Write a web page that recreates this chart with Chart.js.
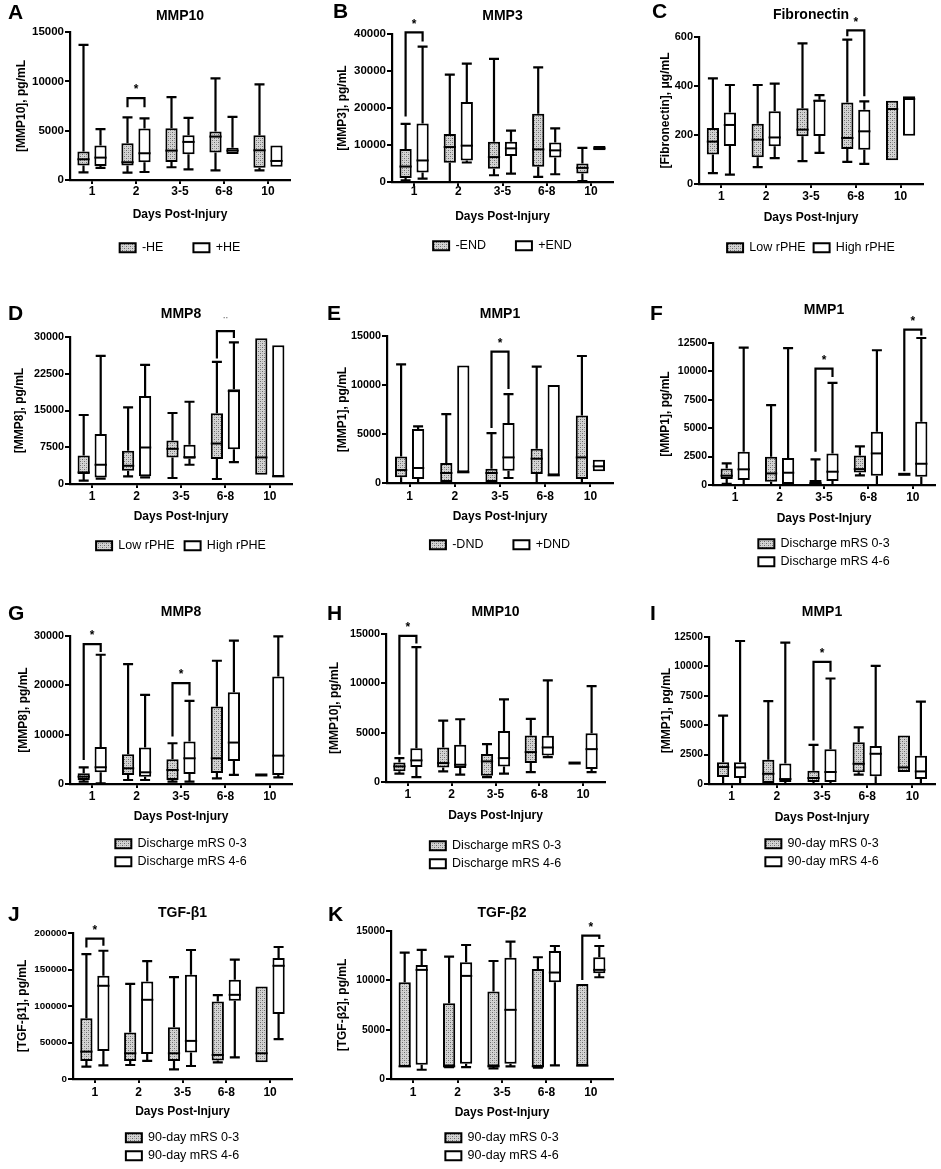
<!DOCTYPE html>
<html>
<head>
<meta charset="utf-8">
<script src="https://cdn.jsdelivr.net/npm/chart.js@4.4.0/dist/chart.umd.min.js"></script>
<style>
html, body { margin: 0; padding: 0; background: #fff; overflow: hidden; }
#fig { position: relative; width: 941px; height: 1169px; }
#fig canvas { position: absolute; }
</style>
</head>
<body>
<div id="fig"></div>
<script>
const days = ["1", "2", "3-5", "6-8", "10"];

// each row: [min, q1, median, q3, max] for days 1, 2, 3-5, 6-8, 10
const aLo = [[780,1460,2100,2880,13700],[750,1460,1800,3720,6350],[1290,1830,2980,5250,8400],[980,2780,4400,4910,10300],[980,1250,3010,4540,9700]];
const aHi = [[1220,1420,2270,3490,5150],[810,1800,2710,5210,6250],[1080,2610,3860,4540,6300],[2640,2640,2980,3280,6400],[1350,1350,1930,3490,3490]];
const bLo = [[450,1090,4180,8900,15700],[0,5180,9450,13000,29000],[1820,3550,6730,10900,33300],[1360,4090,8820,18450,31000],[270,2270,3820,5000,9200]];
const bHi = [[910,2550,5820,15800,36600],[5270,5820,9820,21600,32000],[2270,7000,9090,10900,13900],[2090,6640,8550,10700,14500],[8550,8550,9100,9730,9730]];
const cLo = [[44,120,173,229,431],[69,109,181,246,404],[93,195,222,309,574],[90,143,188,333,589],[97,97,306,340,340]];
const cHi = [[38,155,241,292,404],[106,154,190,297,410],[127,196,340,344,363],[82,140,215,303,337],[197,197,347,358,358]];
const dLo = [[680,2030,2370,5820,14080],[1560,2710,3720,6770,15640],[1220,5420,7180,8870,14490],[1020,5080,8260,14420,24920],[1900,1900,5420,29720,29720]];
const dHi = [[1080,1350,3930,10220,26130],[1350,1560,7450,17940,24310],[3930,5150,5480,7990,16790],[4470,7110,18960,19360,28910],[1420,1420,1560,28300,28300]];
const eLo = [[0,580,1320,2710,12100],[0,0,1020,2040,7020],[0,0,1020,1460,5090],[0,920,2480,3500,11880],[0,410,2610,6890,12960]];
const eHi = [[0,410,1530,5500,5770],[1090,1090,1090,11980,11980],[510,1260,2610,6110,9060],[780,780,780,10010,10010],[1190,1190,1700,2380,2380]];
const fLo = [[100,530,820,1460,1900],[0,290,1020,2490,7030],[0,0,150,440,2250],[850,1100,1400,2600,3400],[940,940,940,940,940]];
const fHi = [[0,440,1380,2930,12090],[0,90,1080,2370,12050],[0,350,1170,2780,8990],[0,820,2780,4680,11860],[0,730,1870,5560,12940]];
const gLo = [[470,810,1490,2170,3390],[810,1830,3180,6030,24310],[470,810,2840,5010,8260],[1150,2230,5210,15710,24980],[1830,1830,1830,1830,1830]];
const gHi = [[140,2370,3390,7520,26200],[810,1490,2370,7380,18080],[470,2030,5210,8600,16860],[1830,4670,8400,18620,29050],[1350,1830,5750,21800,29930]];
const hLo = [[840,1080,1580,1980,2420],[1080,1480,1920,3500,6220],[500,640,2090,2830,3830],[1010,1920,3030,4710,6390],[1920,1920,1920,1920,1920]];
const hHi = [[500,1510,2190,3430,13660],[740,1410,1750,3770,6360],[840,1580,2420,5180,8380],[2520,2690,3500,4680,10290],[1010,1310,3330,4940,9720]];
const iLo = [[0,590,1440,1860,5810],[0,80,870,2060,7050],[0,170,510,1130,3330],[790,990,1720,3560,4820],[1020,1020,1410,4120,4120]];
const iHi = [[0,510,1410,1860,12160],[0,170,420,1750,12020],[0,170,1020,2960,8970],[0,650,2570,3240,10050],[0,420,1070,2400,7000]];
const jLo = [[16900,24700,37500,83300,171000],[19200,24700,35200,63600,130400],[13300,24700,35200,70900,139600],[22900,25200,33000,106200,114900],[22900,22900,35200,126800,126800]];
const jHi = [[18800,38400,127700,141400,175700],[24700,34300,108500,133600,161600],[17800,36200,52200,142800,176700],[29700,107100,115300,135900,163400],[54500,89200,155100,165700,180800]];
const kLo = [[1210,1210,1280,9810,12810],[1210,1280,1280,7680,12400],[1080,1280,1280,8860,11960],[1150,1210,1280,11160,12340],[1350,1350,1350,9640,9640]];
const kHi = [[940,1450,11060,11560,13080],[1210,1550,10450,11830,13580],[1280,1550,7010,12300,13920],[1380,9810,10790,12980,13480],[10310,10720,11060,12340,13480]];

// significance brackets: [day index, bracket top, left leg end, right leg end, mark]
const aSig = [[1, 8300, 7380, 7380, "*"]];
const bSig = [[0, 40450, 17700, 38000, "*"]];
const cSig = [[3, 627, 603, 358, "*"]];
const dSig = [[3, 31200, 25600, 29800, "¨"]];
const eSig = [[2, 13400, 5600, 9600, "*"]];
const fSig = [[2, 10250, 2930, 9510, "*"], [4, 13670, 1200, 13170, "*"]];
const gSig = [[0, 28370, 4870, 26740, "*"], [2, 20450, 9610, 17940, "*"]];
const hSig = [[0, 14800, 2760, 14030, "*"]];
const iSig = [[2, 10380, 3700, 9540, "*"]];
const jSig = [[0, 192200, 180300, 182600, "*"]];
const kSig = [[4, 14530, 10040, 14190, "*"]];

const dis = ["Discharge mRS 0-3", "Discharge mRS 4-6"];
const ninety = ["90-day mRS 0-3", "90-day mRS 4-6"];

const panels = [
  {letter:"A", title:"MMP10", yTitle:"[MMP10], pg/mL", yMax:15000, yStep:5000, names:["-HE","+HE"], lo:aLo, hi:aHi, sig:aSig, tick:11.5,
   px:0, py:0, cw:310, left:70, right:290, top:32, bottom:180, titleY:16, xLabelY:192, xTitleY:215, legendY:247, legPad:30, rows:1, yTitleX:22, letterX:8, letterY:13},
  {letter:"B", title:"MMP3", yTitle:"[MMP3], pg/mL", yMax:40000, yStep:10000, names:["-END","+END"], lo:bLo, hi:bHi, sig:bSig, tick:11.5,
   px:310, py:0, cw:310, left:392, right:613, top:34, bottom:182, titleY:16, xLabelY:192, xTitleY:217, legendY:245, legPad:30, rows:1, yTitleX:343, letterX:333, letterY:12},
  {letter:"C", title:"Fibronectin", yTitle:"[Fibronectin], μg/mL", yMax:600, yStep:200, names:["Low rPHE","High rPHE"], lo:cLo, hi:cHi, sig:cSig, tick:11,
   px:620, py:0, cw:321, left:699, right:923, top:37, bottom:184, titleY:15, xLabelY:197, xTitleY:218, legendY:247, legPad:8, rows:1, yTitleX:666, letterX:652, letterY:12},
  {letter:"D", title:"MMP8", yTitle:"[MMP8], pg/mL", yMax:30000, yStep:7500, names:["Low rPHE","High rPHE"], lo:dLo, hi:dHi, sig:dSig, tick:10.8,
   px:0, py:285, cw:310, left:70, right:292, top:337, bottom:484, titleY:314, xLabelY:497, xTitleY:517, legendY:545, legPad:10, rows:1, yTitleX:20, letterX:8, letterY:314},
  {letter:"E", title:"MMP1", yTitle:"[MMP1], pg/mL", yMax:15000, yStep:5000, names:["-DND","+DND"], lo:eLo, hi:eHi, sig:eSig, tick:10.8,
   px:310, py:285, cw:310, left:387, right:613, top:336, bottom:483, titleY:314, xLabelY:497, xTitleY:517, legendY:544, legPad:30, rows:1, yTitleX:343, letterX:327, letterY:314},
  {letter:"F", title:"MMP1", yTitle:"[MMP1], pg/mL", yMax:12500, yStep:2500, names:dis, lo:fLo, hi:fHi, sig:fSig, tick:10.5,
   px:620, py:285, cw:321, left:713, right:935, top:343, bottom:485, titleY:310, xLabelY:498, xTitleY:519, legendY:543, legPad:5.5, rows:2, yTitleX:666, letterX:650, letterY:314},
  {letter:"G", title:"MMP8", yTitle:"[MMP8], pg/mL", yMax:30000, yStep:10000, names:dis, lo:gLo, hi:gHi, sig:gSig, tick:10.8,
   px:0, py:575, cw:310, left:70, right:292, top:636, bottom:784, titleY:612, xLabelY:797, xTitleY:817, legendY:843, legPad:5.5, rows:2, yTitleX:24, letterX:8, letterY:614},
  {letter:"H", title:"MMP10", yTitle:"[MMP10], pg/mL", yMax:15000, yStep:5000, names:dis, lo:hLo, hi:hHi, sig:hSig, tick:10.8,
   px:310, py:575, cw:310, left:386, right:605, top:634, bottom:782, titleY:612, xLabelY:795, xTitleY:816, legendY:845, legPad:5.5, rows:2, yTitleX:335, letterX:327, letterY:614},
  {letter:"I", title:"MMP1", yTitle:"[MMP1], pg/mL", yMax:12500, yStep:2500, names:ninety, lo:iLo, hi:iHi, sig:iSig, tick:10.3,
   px:620, py:575, cw:321, left:709, right:935, top:637, bottom:784, titleY:612, xLabelY:797, xTitleY:818, legendY:843, legPad:5.5, rows:2, yTitleX:667, letterX:650, letterY:614},
  {letter:"J", title:"TGF-β1", yTitle:"[TGF-β1], pg/mL", yMax:200000, yStep:50000, names:ninety, lo:jLo, hi:jHi, sig:jSig, tick:9.8,
   px:0, py:870, cw:310, left:73, right:292, top:933, bottom:1079, titleY:913, xLabelY:1093, xTitleY:1112, legendY:1137, legPad:5.5, rows:2, yTitleX:23, letterX:8, letterY:915},
  {letter:"K", title:"TGF-β2", yTitle:"[TGF-β2], pg/mL", yMax:15000, yStep:5000, names:ninety, lo:kLo, hi:kHi, sig:kSig, tick:10.3,
   px:310, py:870, cw:310, left:391, right:613, top:931, bottom:1079, titleY:913, xLabelY:1093, xTitleY:1113, legendY:1137, legPad:5.5, rows:2, yTitleX:343, letterX:328, letterY:915}
];

const FONT = "'Liberation Sans', Arial, Helvetica, sans-serif";
Chart.defaults.font.family = FONT;
Chart.defaults.color = "#000";

function stipple() {
  const c = document.createElement("canvas");
  c.width = 4; c.height = 4;
  const g = c.getContext("2d");
  g.fillStyle = "#d4d4d4";
  g.fillRect(0, 0, 4, 4);
  g.fillStyle = "#6a6a6a";
  g.fillRect(0, 0, 1, 1);
  g.fillRect(2, 2, 1, 1);
  g.fillStyle = "#a8a8a8";
  g.fillRect(2, 0, 1, 1);
  g.fillRect(0, 2, 1, 1);
  return g.createPattern(c, "repeat");
}
const dots = stipple();

// whiskers, medians, brackets and the panel letter
function boxPlugin(p) {
  return {
    id: "boxes" + p.letter,
    afterDatasetsDraw(chart) {
      const ctx = chart.ctx;
      const ys = chart.scales.y;
      const px = v => ys.getPixelForValue(v);
      ctx.save();
      ctx.strokeStyle = "#000";
      ctx.lineWidth = 2.2;
      [p.lo, p.hi].forEach((rows, d) => {
        const meta = chart.getDatasetMeta(d);
        rows.forEach((r, i) => {
          const bar = meta.data[i];
          const x = bar.x, half = bar.width / 2, cap = 5;
          ctx.beginPath();
          if (r[4] > r[3]) {
            ctx.moveTo(x, px(r[3])); ctx.lineTo(x, px(r[4]));
            ctx.moveTo(x - cap, px(r[4])); ctx.lineTo(x + cap, px(r[4]));
          }
          if (r[0] < r[1]) {
            ctx.moveTo(x, px(r[1])); ctx.lineTo(x, px(r[0]));
            ctx.moveTo(x - cap, px(r[0])); ctx.lineTo(x + cap, px(r[0]));
          }
          ctx.stroke();
          ctx.beginPath();
          ctx.lineWidth = r[1] === r[3] ? 3 : 2;
          ctx.moveTo(x - half, px(r[2])); ctx.lineTo(x + half, px(r[2]));
          ctx.stroke();
          ctx.lineWidth = 2.2;
        });
      });
      const m0 = chart.getDatasetMeta(0), m1 = chart.getDatasetMeta(1);
      p.sig.forEach(s => {
        const lx = m0.data[s[0]].x, rx = m1.data[s[0]].x;
        const top = px(s[1]);
        ctx.beginPath();
        ctx.moveTo(lx, px(s[2])); ctx.lineTo(lx, top);
        ctx.lineTo(rx, top); ctx.lineTo(rx, px(s[3]));
        ctx.stroke();
        ctx.font = "bold 12px " + FONT;
        ctx.fillStyle = s[4] === "*" ? "#000" : "#888";
        ctx.textAlign = "center";
        ctx.textBaseline = "middle";
        ctx.fillText(s[4], (lx + rx) / 2, top - 8);
      });
      ctx.font = "bold 21px " + FONT;
      ctx.fillStyle = "#000";
      ctx.textAlign = "left";
      ctx.textBaseline = "middle";
      ctx.fillText(p.letter, p.letterX - p.px, p.letterY - p.py);
      ctx.restore();
    }
  };
}

function makeChart(p) {
  const fT = 14, lhT = fT * 1.2;
  const fA = 12, lhA = fA * 1.2;
  const fX = 12, lhX = fX * 1.2;
  const fL = 12.5, itemH = Math.max(fL, 9);
  const legendH = p.rows * (itemH + p.legPad) + 10;
  const chartTop = p.top - p.py, chartBottom = p.bottom - p.py;
  const legendTop = p.legendY - p.py - p.legPad - itemH / 2;
  const H = Math.ceil(legendTop + legendH);
  const xH = H - legendH - chartBottom;
  const chartW = p.right - p.left;

  const canvas = document.createElement("canvas");
  canvas.width = p.cw;
  canvas.height = H;
  canvas.style.left = p.px + "px";
  canvas.style.top = p.py + "px";
  document.getElementById("fig").appendChild(canvas);

  new Chart(canvas, {
    type: "bar",
    data: {
      labels: days,
      datasets: [
        { label: p.names[0], data: p.lo.map(r => [r[1], r[3]]), backgroundColor: dots, borderColor: "#000", borderWidth: 2, borderSkipped: false },
        { label: p.names[1], data: p.hi.map(r => [r[1], r[3]]), backgroundColor: "#fff", borderColor: "#000", borderWidth: 2, borderSkipped: false }
      ]
    },
    options: {
      responsive: false,
      animation: false,
      categoryPercentage: 34 / (chartW / 5),
      barPercentage: 0.72,
      layout: { padding: { left: 0, top: 0, bottom: 0, right: p.px + p.cw - p.right } },
      plugins: {
        tooltip: { enabled: false },
        title: {
          display: true, text: p.title, fullSize: false,
          font: { size: fT, weight: "bold" },
          padding: { top: p.titleY - p.py - lhT / 2, bottom: chartTop - (p.titleY - p.py) - lhT / 2 }
        },
        legend: {
          position: "bottom", fullSize: false,
          labels: { boxWidth: 16, boxHeight: 9, padding: p.legPad, font: { size: fL }, color: "#000" }
        }
      },
      scales: {
        x: {
          grid: { display: true, drawOnChartArea: false, offset: false, drawTicks: true, tickLength: 4, lineWidth: 2, color: "#000" },
          border: { display: true, width: 2.2, color: "#000" },
          ticks: { font: { size: fX, weight: "bold" }, padding: p.xLabelY - p.bottom - 4 - lhX / 2, maxRotation: 0 },
          title: {
            display: true, text: "Days Post-Injury", font: { size: fA, weight: "bold" },
            padding: { top: 0, bottom: chartBottom + xH - lhA / 2 - (p.xTitleY - p.py) }
          },
          afterFit: s => { s.height = xH; }
        },
        y: {
          min: 0, max: p.yMax,
          grid: { display: true, drawOnChartArea: false, drawTicks: true, tickLength: 5, lineWidth: 2, color: "#000" },
          border: { display: true, width: 2.2, color: "#000" },
          ticks: { stepSize: p.yStep, padding: 1, font: { size: p.tick, weight: "bold" }, callback: v => String(v) },
          title: {
            display: true, text: p.yTitle, font: { size: fA, weight: "bold" },
            padding: { top: p.yTitleX - p.px - lhA / 2, bottom: 0 }
          },
          afterFit: s => { s.width = p.left - p.px; }
        }
      }
    },
    plugins: [boxPlugin(p)]
  });
}

panels.forEach(makeChart);
</script>
</body>
</html>
